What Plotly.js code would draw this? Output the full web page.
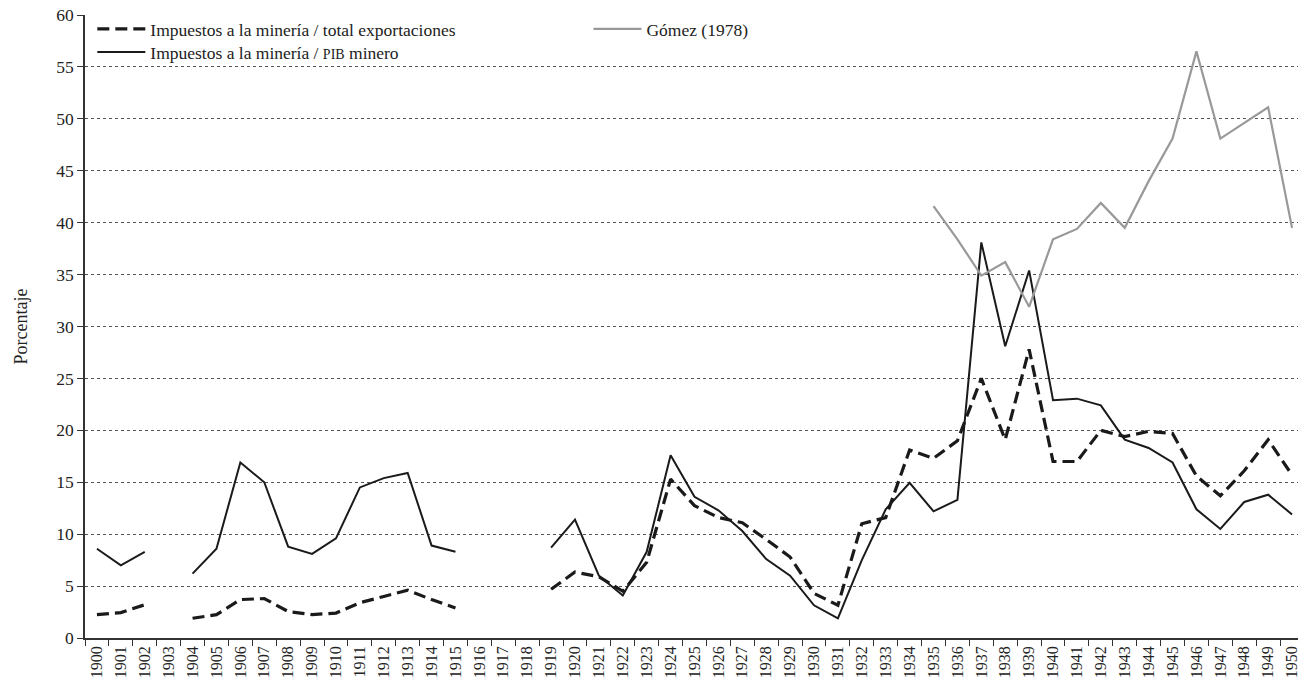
<!DOCTYPE html>
<html>
<head>
<meta charset="utf-8">
<script src="https://cdn.plot.ly/plotly-3.0.1.min.js"></script>
<style>html,body{margin:0;padding:0;overflow:hidden;background:#fff}</style>
</head>
<body>
<div id="chart"></div>
<script>
const years = [];
for (let y = 1900; y <= 1950; y++) years.push(String(y));

// Impuestos a la minería / total exportaciones (1900-1950)
const totalExport = [
  2.25, 2.45, 3.2, null, 1.9, 2.25, 3.7, 3.8, 2.55, 2.25,
  2.4, 3.4, 4.0, 4.6, 3.7, 2.9, null, null, null, 4.7,
  6.35, 5.9, 4.5, 7.3, 15.3, 12.75, 11.6, 11.1, 9.5, 7.8,
  4.3, 3.15, 11.0, 11.6, 18.1, 17.3, 19.0, 25.0, 19.1, 27.8,
  17.0, 17.0, 20.0, 19.4, 19.9, 19.7, 15.6, 13.7, 16.1, 19.1,
  15.7
];

// Impuestos a la minería / PIB minero (1900-1950)
const pibMinero = [
  8.6, 7.0, 8.3, null, 6.2, 8.6, 16.9, 15.0, 8.8, 8.1,
  9.6, 14.5, 15.4, 15.9, 8.9, 8.3, null, null, null, 8.7,
  11.4, 6.0, 4.1, 8.3, 17.6, 13.6, 12.3, 10.3, 7.6, 6.0,
  3.15, 1.9, 7.5, 12.4, 14.95, 12.2, 13.3, 38.1, 28.1, 35.4,
  22.9, 23.05, 22.4, 19.1, 18.3, 16.9, 12.4, 10.5, 13.1, 13.8,
  11.9
];

// Gómez (1978), 1935-1950
const gomezYears = ["1935","1936","1937","1938","1939","1940","1941","1942","1943","1944","1945","1946","1947","1948","1949","1950"];
const gomez = [41.6, 38.4, 34.9, 36.2, 31.9, 38.4, 39.4, 41.9, 39.5, 44.0, 48.1, 56.5, 48.1, 49.6, 51.1, 39.5];

const font = "Liberation Serif, DejaVu Serif, serif";

const traces = [
  {
    x: years, y: totalExport, type: "scatter", mode: "lines",
    name: "Impuestos a la minería / total exportaciones",
    line: {color: "#1a1a1a", width: 3.2, dash: "12px,6px"},
    connectgaps: false, legend: "legend"
  },
  {
    x: years, y: pibMinero, type: "scatter", mode: "lines",
    name: "Impuestos a la minería / <span style='font-size:14px'>PIB</span> minero",
    line: {color: "#1a1a1a", width: 2},
    connectgaps: false, legend: "legend3"
  },
  {
    x: gomezYears, y: gomez, type: "scatter", mode: "lines",
    name: "Gómez (1978)",
    line: {color: "#999999", width: 2.2},
    legend: "legend2"
  }
];

const legendFont = {family: font, size: 17.5, color: "#222"};

const layout = {
  width: 1304,
  height: 687,
  margin: {l: 85, r: 0, t: 15, b: 49},
  paper_bgcolor: "#fff",
  plot_bgcolor: "#fff",
  font: {family: font, size: 17, color: "#222"},
  showlegend: true,
  legend: {
    x: 0.006, y: 1.0064, xanchor: "left", yanchor: "top",
    bgcolor: "rgba(0,0,0,0)", font: legendFont, itemwidth: 48
  },
  legend3: {
    x: 0.006, y: 0.9695, xanchor: "left", yanchor: "top",
    bgcolor: "rgba(0,0,0,0)", font: legendFont, itemwidth: 48
  },
  legend2: {
    x: 0.413, y: 1.0064, xanchor: "left", yanchor: "top",
    bgcolor: "rgba(0,0,0,0)", font: legendFont, itemwidth: 48
  },
  xaxis: {
    type: "category",
    range: [-0.5, 50.5],
    tickangle: -90,
    tickson: "boundaries",
    ticks: "outside",
    ticklen: 6,
    tickcolor: "#333",
    tickfont: {family: font, size: 16, color: "#222"},
    showline: true, linecolor: "#333", linewidth: 1.5,
    showgrid: false, zeroline: false
  },
  yaxis: {
    range: [0, 60],
    dtick: 5,
    tick0: 0,
    ticks: "outside",
    ticklen: 6,
    tickcolor: "#333",
    tickfont: {family: font, size: 17.5, color: "#222"},
    showline: true, linecolor: "#333", linewidth: 1.5,
    showgrid: true, gridcolor: "#555", griddash: "dot", gridwidth: 1,
    zeroline: false,
    title: {text: "Porcentaje", font: {family: font, size: 18, color: "#222"}, standoff: 24}
  }
};

Plotly.newPlot("chart", traces, layout, {displayModeBar: false, responsive: false});
</script>
</body>
</html>
